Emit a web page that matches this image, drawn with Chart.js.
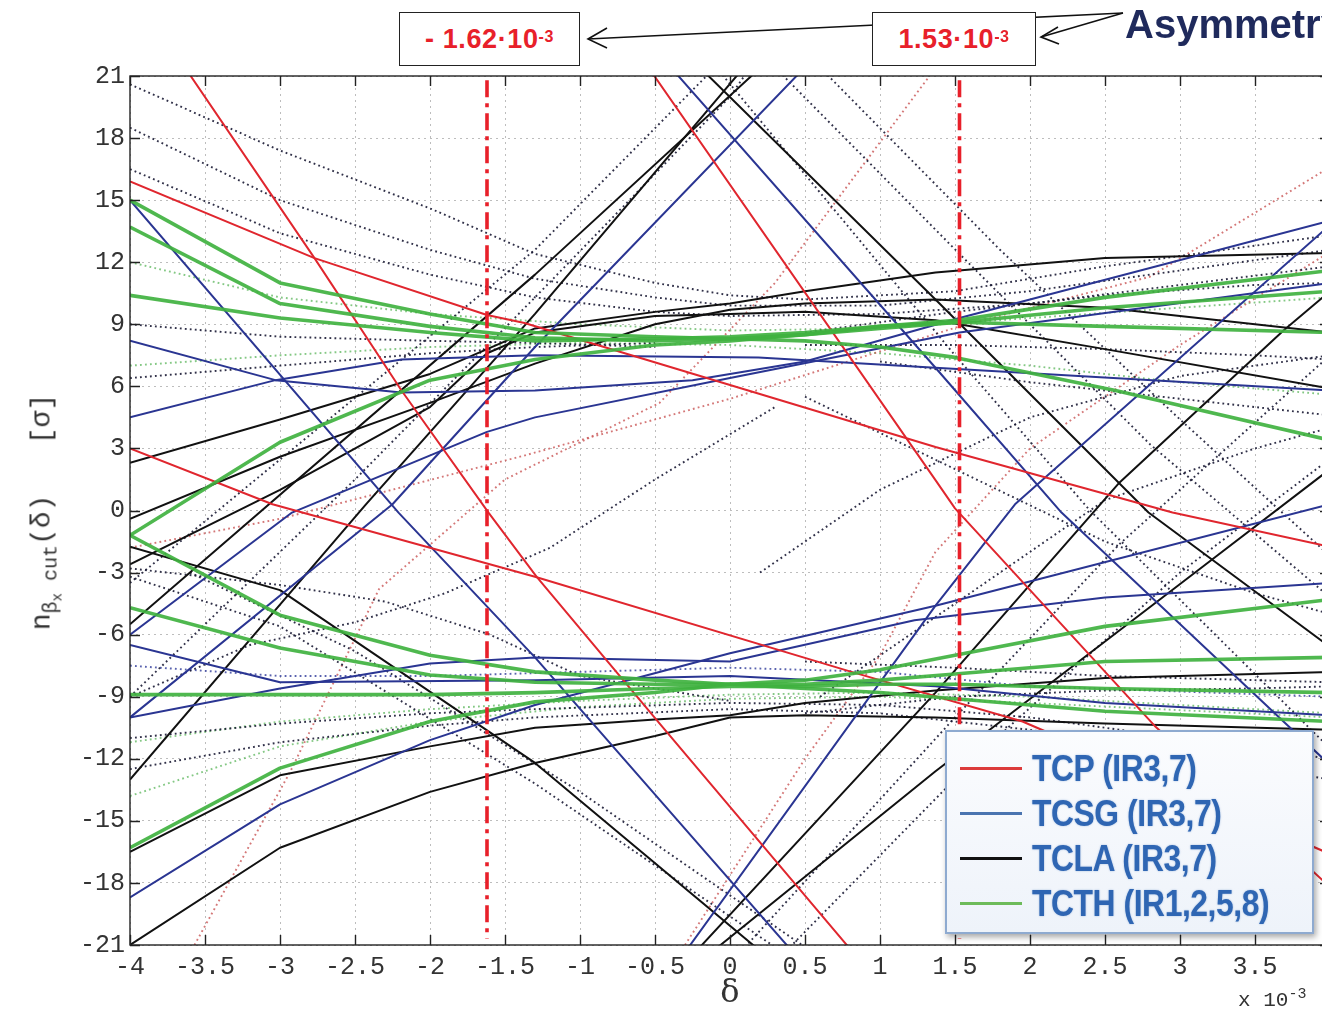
<!DOCTYPE html>
<html>
<head>
<meta charset="utf-8">
<title>Cut in normalised betatron amplitude vs momentum offset</title>
<script src="https://cdn.jsdelivr.net/npm/chart.js@4.4.1/dist/chart.umd.min.js"></script>
<style>
  html, body { margin: 0; padding: 0; background: #fff; }
  #wrap { position: relative; width: 1322px; height: 1014px; overflow: hidden; background: #fff; }
  #plot { position: absolute; left: 0; top: 0; }
  #arrows { position: absolute; left: 0; top: 0; }
  .tag {
    position: absolute; box-sizing: border-box; height: 54px; border: 1.5px solid #222; background: #fff;
    color: #e8202a; font: bold 27px "Liberation Sans", Arial, sans-serif; letter-spacing: 0.6px;
    display: flex; align-items: center; justify-content: center; white-space: nowrap;
  }
  .tag sup { font-size: 16px; position: relative; top: -2px; }
  #asym { position: absolute; left: 1125px; top: 4px; font: bold 40px/40px "Liberation Sans", Arial, sans-serif; color: #1f2a5c; white-space: nowrap; }
  #ytitle {
    position: absolute; left: 46px; top: 512px; transform: translate(-50%, -50%) rotate(-90deg);
    font: 28px "Liberation Mono", "DejaVu Sans Mono", monospace; color: #333; white-space: nowrap;
  }
  #ytitle sub { font-size: 20px; vertical-align: -7px; }
  #ytitle sub sub { font-size: 14px; vertical-align: -5px; }
  #xtitle { position: absolute; left: 730px; top: 972px; transform: translateX(-50%); font: 32px "DejaVu Serif", serif; color: #333; }
  #xscale { position: absolute; left: 1238px; top: 986px; font: 21px "Liberation Mono", monospace; color: #333; white-space: nowrap; }
  #xscale sup { font-size: 15px; }
  #legend {
    position: absolute; left: 945px; top: 730px; width: 369px; height: 204px; box-sizing: border-box;
    border: 2px solid #8eaad0; background: linear-gradient(#fbfcfe, #eef3fa);
    box-shadow: 2px 3px 6px rgba(0,0,0,0.35); padding-top: 14px; overflow: hidden;
  }
  .row { height: 45px; display: flex; align-items: center; }
  .sw { flex: 0 0 62px; height: 3px; margin-left: 13px; margin-right: 10px; }
  .lab { flex: 0 0 auto; display: inline-block; transform: scaleX(0.86); transform-origin: left center;
         font: bold 37px "Liberation Sans", Arial, sans-serif;
         color: #2f66b3; letter-spacing: -0.5px; text-shadow: 0 0 2px rgba(47,102,179,0.45); white-space: nowrap; }
</style>
</head>
<body>
<div id="wrap">
  <canvas id="plot" width="1400" height="1014"></canvas>

  <svg id="arrows" width="1322" height="80" viewBox="0 0 1322 80">
    <g stroke="#111" stroke-width="1.6" fill="none">
      <line x1="1123" y1="13" x2="588" y2="39"/>
      <polyline points="607,28 588,39 607,48"/>
      <line x1="1123" y1="13" x2="1041" y2="37"/>
      <polyline points="1058,27 1041,37 1059,44"/>
    </g>
  </svg>
  <div class="tag" style="left:399px; top:12px; width:181px;">-&nbsp;1.62·10<sup>-3</sup></div>
  <div class="tag" style="left:872px; top:12px; width:164px;">1.53·10<sup>-3</sup></div>
  <div id="asym">Asymmetry</div>

  <div id="ytitle">n<sub>β<sub>x</sub>&nbsp;cut</sub>(δ)&nbsp;&nbsp;&nbsp;[σ]</div>
  <div id="xtitle">δ</div>
  <div id="xscale">x 10<sup>-3</sup></div>

  <div id="legend">
    <div class="row"><span class="sw" style="background:#dc3b3b"></span><span class="lab">TCP (IR3,7)</span></div>
    <div class="row"><span class="sw" style="background:#4a74b0"></span><span class="lab">TCSG (IR3,7)</span></div>
    <div class="row"><span class="sw" style="background:#111"></span><span class="lab">TCLA (IR3,7)</span></div>
    <div class="row"><span class="sw" style="background:#6dbb5a"></span><span class="lab">TCTH (IR1,2,5,8)</span></div>
  </div>
</div>

<script>
// Axis ranges and ticks (delta in units of 1e-3, cut in sigma)
const deltaMin = -4, deltaMax = 4, deltaStep = 0.5;
const cutMin = -21, cutMax = 21, cutStep = 3;

// Asymmetry limits marked by the dash-dot verticals
const asymLeft = -1.62;
const asymRight = 1.53;

// TCP (IR3,7) – solid red, [delta, cut]
const tcpSteepLeft  = [[-3.6,21.05],[-2.77,12.2],[-2.19,5.8],[-1.61,-0.1],[-1.29,-3.2],[-0.48,-10.2],[0.79,-21.1]];
const tcpLowShallow = [[-4,3.0],[-3.05,0.3],[-1.3,-3.2],[0.81,-7.8],[1.95,-10.2],[4,-16.6]];
const tcpSteepRight = [[-0.51,21.06],[1.37,1.47],[1.5,0.1],[2.83,-10.4],[4,-18.2]];
const tcpHighShallow= [[-4,15.9],[-2.77,12.2],[-1.62,9.45],[-1.37,9.06],[1.37,3.07],[2.95,-0.1],[4,-1.75]];

// TCSG (IR3,7) – solid blue
const tcsgA = [[-4,15.0],[-2.21,-0.1],[-1.3,-7.1],[0.39,-21.1]];
const tcsgB = [[-4,-10.0],[-2.25,0.3],[-1.3,7.9],[0.45,21.05]];
const tcsgC = [[-0.35,21.05],[1.37,6.9],[2.21,-0.1],[3.72,-10.4],[4,-12.3]];
const tcsgD = [[-0.28,-21.15],[1.37,-4.6],[1.9,0.3],[4,13.8]];
const tcsgE = [[-4,4.5],[-3.03,6.3],[-2.19,7.3],[-1.3,7.5],[0.19,7.4],[1.37,6.9],[4,5.8]];
const tcsgF = [[-4,8.2],[-3.03,6.3],[-2.19,5.7],[-1.3,5.8],[-0.25,6.3],[0.5,7.2],[1.53,9.3],[4,14.0]];
const tcsgG = [[-4,-6.0],[-2.92,-0.1],[-1.62,3.8],[-1.3,4.5],[0,6.4],[1.53,8.6],[4,11.0]];
const tcsgH = [[-4,-6.5],[-3,-8.3],[-1.3,-8.2],[0,-8.0],[1.37,-8.5],[2.5,-9.3],[4,-9.9]];
const tcsgI = [[-4,-18.7],[-3,-14.2],[-2,-11.1],[-1.3,-9.4],[0,-6.9],[1.37,-4.6],[4,0.3]];
const tcsgJ = [[-4,-10.0],[-3,-8.6],[-2,-7.4],[-1.3,-7.1],[0,-7.3],[1.23,-5.3],[2.5,-4.2],[4,-3.5]];

// TCLA (IR3,7) – solid black
const tclaDown   = [[-0.15,21.05],[1.37,10.2],[2.79,-0.1],[4,-6.6]];
const tclaUp1    = [[-4,-13.0],[-2.43,0.27],[-1.3,9.5],[0.05,21.05]];
const tclaUp2    = [[-4,-5.5],[-1.3,11.4],[0.15,21.05]];
const tclaHighA  = [[-4,2.3],[-3,4.4],[-2,6.6],[-1.3,8.8],[-0.5,9.6],[0,10.0],[0.5,10.6],[1.37,11.5],[2.5,12.2],[4,12.45]];
const tclaHighB  = [[-4,-0.4],[-3,2.6],[-2,5.2],[-1.3,7.1],[-0.5,9.0],[0,9.7],[0.5,10.0],[1.37,10.2],[2.5,9.8],[4,8.6]];
const tclaHighC  = [[-4,-2.6],[-3,1.0],[-2,5.0],[-1.62,7.6],[-1.3,8.6],[-0.5,9.4],[0,9.5],[0.5,9.6],[1.37,9.2],[2.5,7.8],[4,5.9]];
const tclaFall   = [[-4,-1.75],[-3,-3.85],[-1.3,-12.2],[0.17,-21.1]];
const tclaLowA   = [[-4,-16.5],[-3,-12.8],[-2,-11.4],[-1.3,-10.5],[-0.5,-10.1],[0,-9.9],[0.5,-9.3],[1.37,-8.7],[2.5,-8.1],[4,-7.8]];
const tclaLowB   = [[-4,-21.0],[-3,-16.3],[-2,-13.6],[-1.3,-12.2],[-0.5,-10.9],[0,-10.0],[0.5,-9.9],[1.37,-10.0],[2.5,-10.3],[4,-10.6]];
const tclaRise1  = [[-0.2,-21.1],[1.37,-8.8],[2.59,1.3],[3.69,8.7],[4,10.6]];
const tclaRise2  = [[-0.08,-21.1],[1.37,-12.6],[3.19,-2.5],[4,2.0]];

// TCTH (IR1,2,5,8) – solid green
const tcthA = [[-4,15.0],[-3,11.0],[-2,9.5],[-1.3,8.6],[-0.5,8.4],[0,8.3],[0.5,8.2],[1.0,7.9],[1.5,7.4],[2.57,5.8],[4,3.4]];
const tcthB = [[-4,13.7],[-3,10.0],[-2,8.9],[-1.3,8.35],[-0.5,8.2],[0,8.3],[0.5,8.5],[1.0,8.8],[1.53,9.1],[2.5,8.9],[4,8.6]];
const tcthC = [[-4,10.4],[-3,9.3],[-2,8.6],[-1.3,8.2],[-0.5,8.3],[0,8.4],[0.5,8.6],[1.0,8.9],[1.53,9.1],[2.5,9.8],[4,10.6]];
const tcthD = [[-4,-1.2],[-3,3.3],[-2,6.3],[-1.3,7.3],[-0.5,8.0],[0,8.2],[0.5,8.5],[1.0,8.9],[1.53,9.2],[2.5,10.3],[4,11.6]];
const tcthE = [[-4,-1.2],[-3,-5.06],[-2,-7.0],[-1.3,-7.8],[-0.5,-8.2],[0,-8.4],[0.5,-8.6],[1.0,-8.8],[1.5,-9.1],[2.5,-9.7],[4,-10.2]];
const tcthF = [[-4,-4.7],[-3,-6.65],[-2,-7.95],[-1.3,-8.3],[-0.5,-8.4],[0,-8.4],[0.5,-8.4],[1.0,-8.2],[1.5,-7.9],[2.5,-7.3],[4,-7.1]];
const tcthG = [[-4,-8.9],[-2,-8.9],[-1.3,-8.8],[-0.5,-8.6],[0,-8.5],[0.5,-8.5],[1.0,-8.4],[1.5,-8.4],[2.5,-8.6],[4,-8.8]];
const tcthH = [[-4,-16.3],[-3,-12.45],[-2,-10.2],[-1.3,-9.25],[-0.5,-8.8],[0,-8.4],[0.5,-8.2],[1.0,-7.7],[1.5,-7.0],[2.5,-5.6],[4,-4.3]];

// Second-beam curves – dotted
const dotFanA = [[-4,20.6],[-3,17.4],[-2,14.6],[-1.3,12.4],[-0.5,11.0],[0,10.4],[0.5,10.2],[1.5,10.6],[2.5,11.8],[4,13.3]];
const dotFanB = [[-4,18.5],[-3,15.0],[-2,12.6],[-1.3,11.2],[-0.5,10.3],[0,9.9],[1,9.9],[2,10.6],[3,11.6],[4,12.6]];
const dotFanC = [[-4,16.5],[-3,13.4],[-2,11.4],[-1.3,10.3],[-0.5,9.6],[0,9.4],[1,9.5],[2,10.0],[3,10.9],[4,11.8]];
const dotLowA = [[-4,-11.0],[-3,-10.3],[-2,-9.8],[-1.3,-9.6],[0,-9.3],[1,-9.4],[2,-10.0],[3,-11.0],[4,-12.0]];
const dotLowB = [[-4,-12.5],[-3,-11.2],[-2,-10.4],[-1.3,-10.0],[0,-9.6],[1,-9.8],[2,-10.6],[3,-11.8],[4,-13.0]];
const dotFall1 = [[0.35,21.05],[1.53,12.4],[2.8,3.2],[4,-4.2]];
const dotFall2 = [[0.65,21.05],[1.8,12.6],[3.0,4.4],[4,-2.2]];
const dotFall3 = [[-0.05,21.05],[1.5,7.5],[2.4,0.0],[4,-11.5]];
const dotRise1 = [[-4,-3.5],[-1.3,12.6],[-0.15,21.05]];
const dotRise2 = [[-4,-9.0],[-2.5,1.5],[-1.3,10.3],[0,20.0],[0.1,21.05]];
const dotLowFall1 = [[-4,-3.2],[-3,-5.6],[-1.3,-13.2],[0.3,-21.1]];
const dotLowFall2 = [[-3.6,-3.0],[-2.5,-6.8],[-1.0,-13.6],[0.5,-21.1]];
const dotLowRise1 = [[0.1,-21.1],[1.5,-10.0],[2.6,-1.6],[4,7.5]];
const dotLowRise2 = [[0.4,-21.1],[1.7,-11.5],[3.0,-3.0],[4,2.5]];
const dotEyeA = [[-4,-2.8],[-3,-3.6],[-2.3,-4.4],[-1.6,-6.0],[-1.0,-8.0],[0,-9.2]];
const dotEyeB = [[-4,-9.0],[-3.2,-6.5],[-2.5,-5.4],[-1.9,-4.0],[-1.2,-1.8],[-0.5,1.5],[0.3,5.0]];
const dotMidA = [[0.2,-3.0],[1.0,1.0],[2.0,4.5],[3.0,6.5],[4,7.5]];
const dotMidB = [[0.5,5.5],[1.5,2.0],[2.5,-1.5],[3.5,-4.0],[4,-5.0]];
const dotMidC = [[0.6,-9.0],[1.5,-4.5],[2.5,0.5],[3.5,3.0],[4,4.0]];
const dotRightA = [[0.5,8.6],[1.5,9.6],[2.5,10.4],[3.5,10.9],[4,11.0]];
const dotRightB = [[0.5,8.0],[1.5,8.0],[2.5,7.8],[3.5,7.5],[4,7.3]];
const dotRightC = [[1.0,7.2],[2.0,6.2],[3.0,5.4],[4,4.6]];
const dotRightD = [[0.5,-9.8],[1.5,-9.0],[2.5,-8.7],[3.5,-8.6],[4,-8.5]];
const dotRightE = [[0.5,-7.3],[1.5,-7.6],[2.5,-8.0],[4,-8.3]];
const dotLeftA = [[-4,9.0],[-3,8.4],[-2,8.2],[-1.3,8.1],[-0.5,7.9]];
const dotLeftB = [[-4,6.4],[-3,7.0],[-2,7.6],[-1.3,7.9],[-0.5,8.1]];
const dotBlue = [[-4,-7.5],[-3,-8.0],[-2,-8.0],[-1,-7.8],[0,-7.6],[1,-7.8],[2,-8.5],[4,-9.0]];
const dotRedA = [[-3.57,-21],[-2.93,-12.6],[-2.34,-3.8],[-1.5,1.5],[-0.47,5.2],[0.3,11.0],[1.33,21]];
const dotRedB = [[-4,-1.8],[-3,-0.4],[-1.4,2.6],[0,5.4],[1.53,8.9],[2.8,11.3],[4,16.6]];
const dotRedC = [[-0.3,-21],[0.5,-12.0],[1.0,-7.0],[1.37,-2.0],[2.0,3.0],[3.0,8.0],[4,12.5]];
const dotGreenA = [[-4,-11.2],[-3,-10.2],[-2,-9.6],[-1,-9.2],[0,-8.9],[1,-8.8],[2,-9.0],[3,-9.4],[4,-9.8]];
const dotGreenB = [[-4,-13.8],[-3,-11.4],[-2,-10.2],[-1,-9.5],[0,-9.1],[1,-9.0],[2,-9.3],[4,-10.0]];
const dotGreenC = [[-4,12.0],[-3,10.3],[-2,9.5],[-1,9.0],[0,8.7],[1,8.8],[2,9.3],[3,9.8],[4,10.3]];
const dotGreenD = [[-4,7.0],[-3,7.5],[-2,7.9],[-1,8.1],[0,8.0],[1,7.6],[2,7.0],[3,6.2],[4,5.6]];

// Colours
const RED = '#e0262e', BLUE = '#2a3592', BLACK = '#111111', GREEN = 'rgba(64,178,64,0.92)';
const DOT_DARK = 'rgba(25,26,52,0.9)', DOT_RED = 'rgba(205,95,95,0.85)', DOT_GREEN = 'rgba(110,190,110,0.85)', DOT_BLUE = 'rgba(60,70,160,0.85)';

const toPts = arr => arr.map(([x, y]) => ({ x, y }));
const noClip = { left: 0, top: 0, right: 0, bottom: 0 };

function solid(arr, color, width, order) {
  return { data: toPts(arr), borderColor: color, borderWidth: width, pointRadius: 0, tension: 0,
           fill: false, clip: noClip, order, borderJoinStyle: 'round' };
}
function dotted(arr, color) {
  return { data: toPts(arr), borderColor: color, borderWidth: 1.9, borderDash: [1.8, 3.2], pointRadius: 0,
           tension: 0, fill: false, clip: noClip, order: 6 };
}
function limit(xv) {
  return { data: toPts([[xv, cutMax - 0.2], [xv, cutMin + 0.3]]), borderColor: '#e8202a', borderWidth: 3.6,
           borderDash: [17, 6, 4, 6], pointRadius: 0, fill: false, clip: noClip, order: 0 };
}

const datasets = [
  limit(asymLeft), limit(asymRight),
  ...[tcthA, tcthB, tcthC, tcthD, tcthE, tcthF, tcthG, tcthH].map(d => solid(d, GREEN, 3.6, 1)),
  ...[tcpSteepLeft, tcpLowShallow, tcpSteepRight, tcpHighShallow].map(d => solid(d, RED, 2, 2)),
  ...[tcsgA, tcsgB, tcsgC, tcsgD, tcsgE, tcsgF, tcsgG, tcsgH, tcsgI, tcsgJ].map(d => solid(d, BLUE, 2, 3)),
  ...[tclaDown, tclaUp1, tclaUp2, tclaHighA, tclaHighB, tclaHighC, tclaFall, tclaLowA, tclaLowB, tclaRise1, tclaRise2]
      .map(d => solid(d, BLACK, 2, 4)),
  ...[dotFanA, dotFanB, dotFanC, dotLowA, dotLowB, dotFall1, dotFall2, dotFall3, dotRise1, dotRise2,
      dotLowFall1, dotLowFall2, dotLowRise1, dotLowRise2, dotEyeA, dotEyeB, dotMidA, dotMidB, dotMidC,
      dotRightA, dotRightB, dotRightC, dotRightD, dotRightE, dotLeftA, dotLeftB]
      .map(d => dotted(d, DOT_DARK)),
  dotted(dotBlue, DOT_BLUE),
  ...[dotRedA, dotRedB, dotRedC].map(d => dotted(d, DOT_RED)),
  ...[dotGreenA, dotGreenB, dotGreenC, dotGreenD].map(d => dotted(d, DOT_GREEN))
];

// Box frame with inward tick marks on all sides
const framePlugin = {
  id: 'frame',
  afterDatasetsDraw(chart) {
    const { ctx, chartArea: a, scales: { x, y } } = chart;
    ctx.save();
    ctx.strokeStyle = '#222';
    ctx.lineWidth = 1.4;
    ctx.setLineDash([]);
    ctx.strokeRect(a.left, a.top, a.right - a.left, a.bottom - a.top);
    ctx.beginPath();
    x.ticks.forEach(t => {
      const px = Math.round(x.getPixelForValue(t.value)) + 0.5;
      ctx.moveTo(px, a.bottom); ctx.lineTo(px, a.bottom - 10);
      ctx.moveTo(px, a.top); ctx.lineTo(px, a.top + 10);
    });
    y.ticks.forEach(t => {
      const py = Math.round(y.getPixelForValue(t.value)) + 0.5;
      ctx.moveTo(a.left, py); ctx.lineTo(a.left + 10, py);
      ctx.moveTo(a.right, py); ctx.lineTo(a.right - 10, py);
    });
    ctx.stroke();
    ctx.restore();
  }
};

const tickFont = { family: '"Liberation Mono", "DejaVu Sans Mono", monospace', size: 25 };
const plainNumber = v => String(v);

new Chart(document.getElementById('plot'), {
  type: 'line',
  data: { datasets },
  plugins: [framePlugin],
  options: {
    responsive: false,
    animation: false,
    events: [],
    layout: { padding: { left: 0, right: 70, top: 76, bottom: 0 } },
    plugins: { legend: { display: false }, tooltip: { enabled: false } },
    scales: {
      x: {
        type: 'linear', min: deltaMin, max: deltaMax,
        afterFit(scale) { scale.height = 69; },
        ticks: { stepSize: deltaStep, autoSkip: false, maxRotation: 0, padding: 7, color: '#333', font: tickFont, callback: plainNumber },
        grid: { color: '#bdbdbd', lineWidth: 1, drawTicks: false },
        border: { display: false, dash: [2, 4] }
      },
      y: {
        type: 'linear', min: cutMin, max: cutMax,
        afterFit(scale) { scale.width = 130; },
        ticks: { stepSize: cutStep, autoSkip: false, padding: 5, color: '#333', font: tickFont, callback: plainNumber },
        grid: { color: '#bdbdbd', lineWidth: 1, drawTicks: false },
        border: { display: false, dash: [2, 4] }
      }
    }
  }
});
</script>
</body>
</html>
